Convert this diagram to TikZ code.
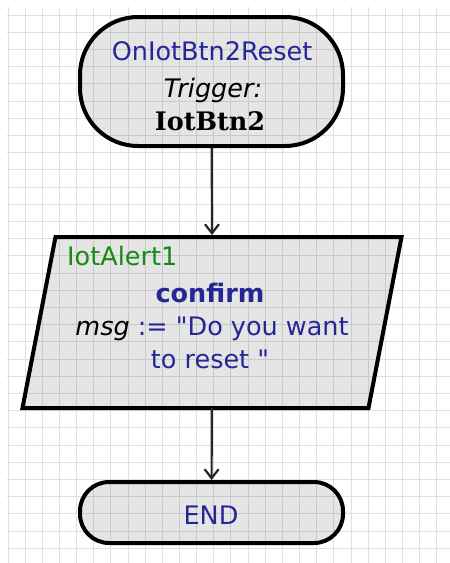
\documentclass[tikz,border=0pt]{standalone}
\usepackage{fontspec}
\newfontfamily\letra{DejaVu Sans}
\newfontfamily\serifnegrita{DejaVu Serif}
\usetikzlibrary{arrows.meta, positioning}

\definecolor{azulnodo}{RGB}{38,38,150}
\definecolor{verdenodo}{RGB}{20,140,20}
\definecolor{rejilla}{RGB}{224,224,224}

\tikzset{
    relleno/.style={fill=black, fill opacity=0.1, text opacity=1},
    terminal/.style={draw, line width=4pt, rounded corners=#1, relleno, minimum width=263pt},
    datos/.style={inner sep=0pt, outer sep=0pt, minimum width=346pt, minimum height=171pt},
    texto/.style={inner sep=0pt, anchor=base, font=\letra\fontsize{25.5}{30}\selectfont},
    flecha/.style={line width=2.2pt, black!85, -{Straight Barb[length=9pt, width=14pt, line width=2.2pt]}}
}

\begin{document}
\begin{tikzpicture}[x=1pt, y=-1pt]

    % Fondo y rejilla
    \useasboundingbox (0,0) rectangle (450,563);
    \fill[white] (0,0) rectangle (450,563);
    \foreach \x in {0,...,25} {
        \draw[rejilla, line width=1pt] (8+17.15*\x, 7) -- (8+17.15*\x, 563);
    }
    \foreach \y in {0,...,31} {
        \draw[rejilla, line width=1pt] (7, 15+17.2*\y) -- (450, 15+17.2*\y);
    }

    % Bloque de inicio
    \node[terminal=58pt, minimum height=129pt] (inicio) at (211.5, 81.5) {};
    \node[texto, text=azulnodo] (evento) at (212, 60) {OnIotBtn2Reset};
    \node[texto] (disparo) at (213, 97) {\itshape Trigger:};
    \node[texto, font=\serifnegrita\bfseries\fontsize{25.5}{30}\selectfont] (boton) at (210, 130) {IotBtn2};

    % Bloque de datos (paralelogramo inclinado)
    \node[datos] (alerta) at (212, 322.5) {};
    \draw[line width=4pt, relleno] ([xshift=16.5pt]alerta.north west) -- ([xshift=16.5pt]alerta.north east)
        -- ([xshift=-16.5pt]alerta.south east) -- ([xshift=-16.5pt]alerta.south west) -- cycle;
    \node[texto, anchor=base west, text=verdenodo] (objeto) at (67, 265) {IotAlert1};
    \node[texto, text=azulnodo] (metodo) at (210, 302) {\bfseries confirm};
    \node[texto, text=azulnodo] (mensaje) at (212, 335) {\textcolor{black}{\itshape msg} := "Do you want};
    \node[texto, text=azulnodo] (mensaje2) at (210, 368) {to reset "};

    % Bloque final
    \node[terminal=29pt, minimum height=61pt] (fin) at (211.5, 512.5) {};
    \node[texto, text=azulnodo] (etiqueta) at (211, 524) {END};

    % Flechas entre bloques
    \draw[flecha] (inicio) -- ([yshift=2pt]alerta.north);
    \draw[flecha] (alerta) -- (fin);

\end{tikzpicture}
\end{document}
